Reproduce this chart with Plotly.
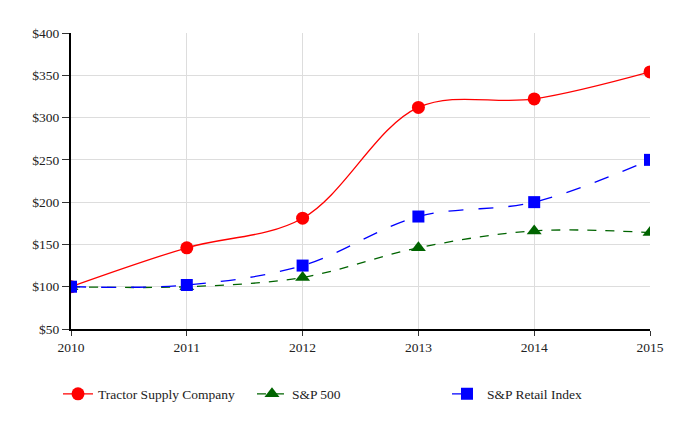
import plotly.graph_objects as go

years = [2010, 2011, 2012, 2013, 2014, 2015]
tractor = [100, 146, 181, 312, 322, 354]
sp500 = [100, 100, 111, 146, 166, 164]
retail = [100, 102, 125, 183, 200, 250]
y_ticks = [50, 100, 150, 200, 250, 300, 350, 400]
y_labels = ["$" + str(v) for v in y_ticks]

FONT = "Liberation Serif"

fig = go.Figure()
fig.add_trace(go.Scatter(
    x=years, y=tractor, name="Tractor Supply Company", mode="lines+markers",
    line=dict(color="#FF0000", width=1.3, shape="spline", smoothing=1),
    marker=dict(symbol="circle", size=13, color="#FF0000"), legend="legend"))
fig.add_trace(go.Scatter(
    x=years, y=sp500, name="S&P 500", mode="lines+markers",
    line=dict(color="#006400", width=1.3, dash="dash", shape="spline", smoothing=1),
    marker=dict(symbol="triangle-up", size=13, color="#006400"), legend="legend2"))
fig.add_trace(go.Scatter(
    x=years, y=retail, name="S&P Retail Index", mode="lines+markers",
    line=dict(color="#0000FF", width=1.3, dash="longdash", shape="spline", smoothing=1),
    marker=dict(symbol="square", size=12, color="#0000FF"), legend="legend3"))

leg_common = dict(orientation="h", xref="container", yref="container",
                  xanchor="left", yanchor="middle", y=0.1023,
                  font=dict(family=FONT, size=13.5, color="#222222"),
                  bgcolor="rgba(0,0,0,0)")

tick_font = dict(family=FONT, size=13.5, color="#222222")

fig.update_layout(
    width=684, height=430,
    margin=dict(l=63, r=42, t=25, b=109),
    paper_bgcolor="white", plot_bgcolor="white",
    font=dict(family=FONT, size=13, color="#222222"),
    showlegend=True,
    legend=dict(x=0.0731, **leg_common),
    legend2=dict(x=0.3567, **leg_common),
    legend3=dict(x=0.6418, **leg_common),
    xaxis=dict(range=[2010, 2015], tickvals=years, ticktext=[str(y) for y in years],
               tickfont=tick_font,
               showgrid=True, gridcolor="#DDDDDD", showline=True, linecolor="black",
               linewidth=2, ticks="outside", ticklen=5, tickcolor="#333333", zeroline=False),
    yaxis=dict(range=[50, 400], tickvals=y_ticks, ticktext=y_labels,
               tickfont=tick_font,
               showgrid=True, gridcolor="#DDDDDD", showline=True, linecolor="black",
               linewidth=2, ticks="outside", ticklen=7, tickcolor="#333333", zeroline=False),
)
fig.write_html("out.html")
